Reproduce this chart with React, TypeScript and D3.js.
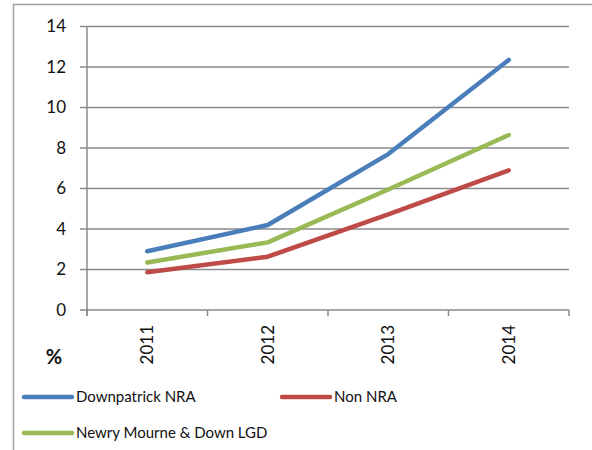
import { useEffect, useRef } from 'react';
import * as d3 from 'd3';

const years = ['2011', '2012', '2013', '2014'];
const downpatrick = [2.9, 4.2, 7.7, 12.35];
const nonNra = [1.86, 2.63, 4.72, 6.9];
const newry = [2.35, 3.34, 5.95, 8.64];
const yTicks = [0, 2, 4, 6, 8, 10, 12, 14];

const series = [
  { name: 'Downpatrick NRA', values: downpatrick, color: '#4a7ebb' },
  { name: 'Non NRA', values: nonNra, color: '#be4b48' },
  { name: 'Newry Mourne & Down LGD', values: newry, color: '#98b954' },
];

export default function App() {
  const svgRef = useRef<SVGSVGElement>(null);

  useEffect(() => {
    document.body.style.margin = '0';
    if (!svgRef.current) return;

    const svg = d3.select(svgRef.current);
    svg.selectAll('*').remove();

    const width = 592;
    const height = 450;
    const margin = { top: 26, right: 23, bottom: 140, left: 87 };
    const font = 'Lato, "Open Sans", sans-serif';
    const gridColor = '#8a8a8a';

    // outer chart border
    svg
      .append('rect')
      .attr('x', 13.5)
      .attr('y', 4.5)
      .attr('width', width)
      .attr('height', height)
      .attr('fill', 'white')
      .attr('stroke', '#a0a0a0')
      .attr('stroke-width', 1.5);

    const xScale = d3
      .scaleBand()
      .domain(years)
      .range([margin.left, width - margin.right]);

    const yScale = d3
      .scaleLinear()
      .domain([0, 14])
      .range([310, margin.top + 0.5]);

    const g = svg.append('g');

    // horizontal gridlines
    g.selectAll('.grid')
      .data(yTicks)
      .enter()
      .append('line')
      .attr('x1', margin.left - 7)
      .attr('x2', width - margin.right)
      .attr('y1', (d) => yScale(d))
      .attr('y2', (d) => yScale(d))
      .attr('stroke', gridColor)
      .attr('stroke-width', 1.5);

    // y axis line
    g.append('line')
      .attr('x1', margin.left)
      .attr('x2', margin.left)
      .attr('y1', yScale(14))
      .attr('y2', yScale(0) + 6)
      .attr('stroke', gridColor)
      .attr('stroke-width', 1.5);

    // x axis ticks at band boundaries
    const bounds = years.map((y) => xScale(y)!).concat([width - margin.right]);
    g.selectAll('.xtick')
      .data(bounds)
      .enter()
      .append('line')
      .attr('x1', (d) => d)
      .attr('x2', (d) => d)
      .attr('y1', yScale(0))
      .attr('y2', yScale(0) + 6)
      .attr('stroke', gridColor)
      .attr('stroke-width', 1.5);

    // y labels
    g.selectAll('.ylabel')
      .data(yTicks)
      .enter()
      .append('text')
      .attr('x', 66)
      .attr('y', (d) => yScale(d))
      .attr('dy', '0.35em')
      .attr('text-anchor', 'end')
      .attr('font-family', font)
      .attr('font-size', 17)
      .attr('fill', '#111')
      .text((d) => d);

    // x labels rotated
    g.selectAll('.xlabel')
      .data(years)
      .enter()
      .append('text')
      .attr(
        'transform',
        (d) => `translate(${xScale(d)! + xScale.bandwidth() / 2},325) rotate(-90)`
      )
      .attr('dy', '0.35em')
      .attr('text-anchor', 'end')
      .attr('font-family', font)
      .attr('font-size', 17)
      .attr('fill', '#111')
      .text((d) => d);

    // % label
    svg
      .append('text')
      .attr('x', 54)
      .attr('y', 364)
      .attr('text-anchor', 'middle')
      .attr('font-family', font)
      .attr('font-size', 20)
      .attr('font-weight', 'bold')
      .attr('fill', '#111')
      .text('%');

    // lines
    const line = d3
      .line<number>()
      .x((_, i) => xScale(years[i])! + xScale.bandwidth() / 2)
      .y((d) => yScale(d));

    [series[1], series[2], series[0]].forEach((s) => {
      g.append('path')
        .datum(s.values)
        .attr('d', line)
        .attr('fill', 'none')
        .attr('stroke', s.color)
        .attr('stroke-width', 4.5)
        .attr('stroke-linecap', 'round')
        .attr('stroke-linejoin', 'round');
    });

    // legend
    const legendPos = [
      { x: 24, y: 397 },
      { x: 282, y: 397 },
      { x: 24, y: 433 },
    ];
    series.forEach((s, i) => {
      const p = legendPos[i];
      const lg = svg.append('g').attr('transform', `translate(${p.x},${p.y})`);
      lg.append('line')
        .attr('x1', 0)
        .attr('x2', 48)
        .attr('y1', 0)
        .attr('y2', 0)
        .attr('stroke', s.color)
        .attr('stroke-width', 4.5)
        .attr('stroke-linecap', 'round');
      lg.append('text')
        .attr('x', 52)
        .attr('y', 0)
        .attr('dy', '0.35em')
        .attr('font-family', font)
        .attr('font-size', 15)
        .attr('fill', '#111')
        .text(s.name);
    });
  }, []);

  return <svg ref={svgRef} width={592} height={450} style={{ display: 'block' }} />;
}
